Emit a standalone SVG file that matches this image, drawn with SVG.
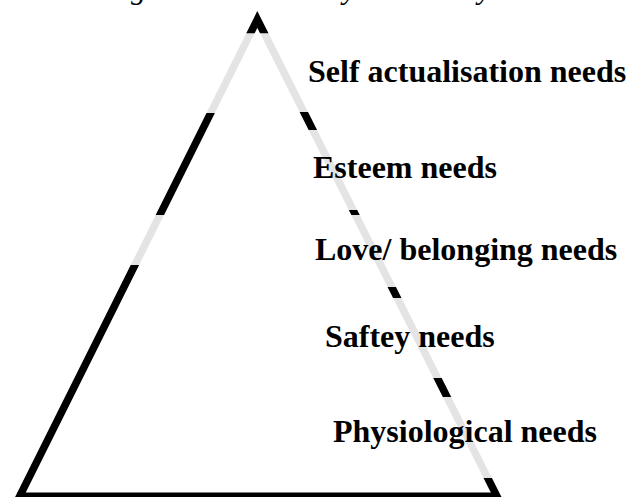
<svg xmlns="http://www.w3.org/2000/svg" width="628" height="497" viewBox="0 0 628 497">
  <style>
    .lbl { font-family: "Liberation Serif", "Times New Roman", serif; font-weight: bold; font-size: 32px; fill: #000; }
    .cap { font-family: "Liberation Serif", "Times New Roman", serif; font-style: italic; font-size: 30px; fill: #000; }
    .side { fill: none; stroke-width: 7.5; stroke-linejoin: miter; stroke-miterlimit: 10; }
  </style>
  <defs>
    <path id="sides" d="M17.8,500 L257.3,19.5 L498.8,500"/>
    <clipPath id="blackBands">
      <rect x="0" y="0" width="628" height="33.3"/>
      <rect x="0" y="113" width="257" height="102"/>
      <rect x="0" y="265" width="257" height="235"/>
      <rect x="257" y="112" width="371" height="18"/>
      <rect x="257" y="210" width="371" height="5"/>
      <rect x="257" y="287" width="371" height="11"/>
      <rect x="257" y="378" width="371" height="19"/>
      <rect x="257" y="478" width="371" height="22"/>
    </clipPath>
  </defs>
  <rect x="0" y="0" width="628" height="497" fill="#ffffff"/>

  <g id="caption-fragment">
    <text class="cap" x="131" y="-1.5">g</text>
    <text class="cap" x="343" y="-1.5">y</text>
    <text class="cap" x="478" y="-1.5">y</text>
  </g>

  <g id="pyramid">
    <use href="#sides" class="side" stroke="#e4e4e4"/>
    <use href="#sides" class="side" stroke="#000000" clip-path="url(#blackBands)"/>
    <line x1="17" y1="494.7" x2="498" y2="494.7" stroke="#000000" stroke-width="4.5"/>
  </g>

  <g id="label-self"><text class="lbl" x="308" y="82.3">Self actualisation needs</text></g>
  <g id="label-esteem"><text class="lbl" x="313" y="178.3">Esteem needs</text></g>
  <g id="label-love"><text class="lbl" x="315" y="260">Love/ belonging needs</text></g>
  <g id="label-safety"><text class="lbl" x="325" y="346.7">Saftey needs</text></g>
  <g id="label-physio"><text class="lbl" x="333" y="441.7">Physiological needs</text></g>
</svg>
